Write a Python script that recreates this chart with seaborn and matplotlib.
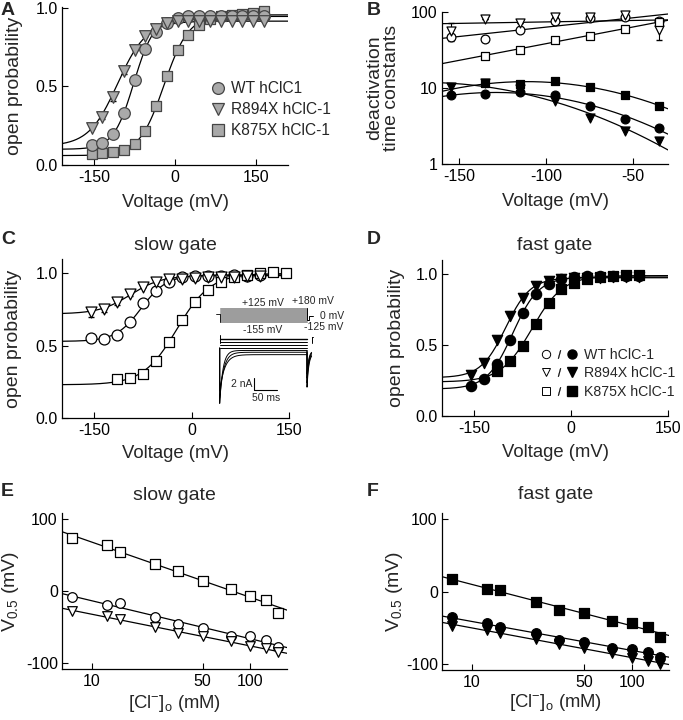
import numpy as np
import pandas as pd
import matplotlib
matplotlib.use("Agg")
import matplotlib.pyplot as plt
import seaborn as sns
from matplotlib.lines import Line2D
from matplotlib.legend_handler import HandlerTuple

sns.set_theme(style="ticks")
plt.rcParams['font.family'] = ['Liberation Sans', 'DejaVu Sans']
plt.rcParams['mathtext.fontset'] = 'custom'
plt.rcParams['mathtext.rm'] = 'Liberation Sans'
plt.rcParams['mathtext.it'] = 'Liberation Sans:italic'
plt.rcParams['axes.linewidth'] = 0.9
plt.rcParams['axes.edgecolor'] = 'black'
plt.rcParams['axes.unicode_minus'] = False

# ---------------- data ----------------
# Panel A: open probability (grey symbols)
A_v = [-155, -135, -115, -95, -75, -55, -35, -15, 5, 25, 45, 65, 85, 105, 125, 145, 165]
A_wt = [0.127, 0.142, 0.197, 0.328, 0.543, 0.736, 0.846, 0.903, 0.934, 0.945, 0.947, 0.948, 0.948, 0.947, 0.948, 0.947, 0.948]
A_r894x = [0.233, 0.307, 0.433, 0.596, 0.734, 0.818, 0.867, 0.903, 0.915, 0.915, 0.916, 0.915, 0.915, 0.916, 0.915, 0.915, 0.915]
A_r894x_err = [0.0, 0.015, 0.025, 0.02, 0.0, 0.0, 0.0, 0.0, 0.0, 0.0, 0.0, 0.0, 0.0, 0.0, 0.0, 0.0, 0.0]
A_k875x = [0.07, 0.074, 0.082, 0.095, 0.133, 0.216, 0.374, 0.567, 0.729, 0.829, 0.892, 0.93, 0.945, 0.951, 0.958, 0.97, 0.977]
# Boltzmann fit parameters: (Pmin, Pmax, V0.5, k)
A_fit_wt = (0.10, 0.945, -76.5, 18.9)
A_fit_r894x = (0.12, 0.915, -106.7, 26.7)
A_fit_k875x = (0.06, 0.955, -20.5, 23.0)

# Panel B: deactivation time constants
B_v = [-155, -135, -115, -95, -75, -55, -35]
B_v_k = [-135, -115, -95, -75, -55, -35]
B_slow_wt = [46.6, 44.3, 57.6, 75.7, 83.8, 86.3, 76.0]
B_slow_r894x = [56.0, 81.0, 72.0, 86.0, 86.0, 90.0, 58.0]
B_slow_r894x_err = [15.0, 0, 0, 0, 0, 0, 15.0]
B_slow_k875x = [26.7, 32.0, 43.4, 48.0, 60.6, 73.4]
B_fast_wt = [8.0, 8.4, 8.77, 8.17, 5.73, 3.94, 2.97]
B_fast_r894x = [10.3, 11.6, 9.7, 6.67, 4.0, 2.68, 1.98]
B_fast_k875x = [11.6, 11.4, 12.2, 10.3, 8.17, 5.85]

# Panel C: slow gate open probability
C_v = [-155, -135, -115, -95, -75, -55, -35, -15, 5, 25, 45, 65, 85, 105]
C_v_k = [-115, -95, -75, -55, -35, -15, 5, 25, 45, 65, 85, 105, 125, 145]
C_wt = [0.554, 0.55, 0.573, 0.665, 0.797, 0.88, 0.942, 0.975, 0.982, 0.985, 0.985, 0.986, 0.985, 0.986]
C_r894x = [0.73, 0.757, 0.80, 0.857, 0.908, 0.942, 0.96, 0.965, 0.97, 0.975, 0.975, 0.976, 0.98, 0.98]
C_r894x_err = [0.03, 0.025, 0.02, 0.01, 0.0, 0.0, 0.0, 0.0, 0.0, 0.0, 0.0, 0.0, 0.0, 0.02]
C_k875x = [0.268, 0.277, 0.307, 0.393, 0.527, 0.677, 0.804, 0.885, 0.942, 0.977, 0.99, 1.0, 1.007, 1.0]
C_fit_wt = (0.53, 0.99, -77.7, 19.7)
C_fit_r894x = (0.72, 0.985, -94.7, 24.0)
C_fit_k875x = (0.23, 1.0, -22.9, 26.0)

# Panel C inset: voltage protocol and currents
ins_test_mV = [-155, -135, -115, -95, -75, -55, -35, -15, 5, 25, 45, 65, 85, 105, 125]
ins_pulse_ms = 190
ins_tail_mV = -125
ins_flat_nA = [0.0, -0.5, -1.0, -1.5]
ins_dec_peak = [-10.7, -9.8, -8.6]
ins_dec_ss = [-1.9, -2.2, -2.6]
ins_dec_tau = [7.0, 9.0, 11.0]
ins_tail_peak = [-8.0, -7.3, -6.5, -5.8]
ins_tail_ss = [-2.4, -2.2, -2.0, -1.9]

# Panel D: fast gate open probability
D_v = [-155, -135, -115, -95, -75, -55, -35, -15, 5, 25, 45, 65, 85, 105]
D_v_k = [-115, -95, -75, -55, -35, -15, 5, 25, 45, 65, 85, 105]
D_wt = [0.209, 0.258, 0.367, 0.535, 0.728, 0.86, 0.93, 0.965, 0.977, 0.984, 0.988, 0.988, 0.99, 0.99]
D_r894x = [0.286, 0.374, 0.535, 0.705, 0.833, 0.914, 0.95, 0.965, 0.97, 0.975, 0.975, 0.98, 0.98, 0.98]
D_k875x = [0.32, 0.386, 0.495, 0.651, 0.798, 0.898, 0.937, 0.965, 0.979, 0.99, 0.995, 0.995]
D_k875x_err = [0.03, 0.02, 0, 0, 0, 0, 0, 0, 0, 0, 0, 0]
D_fit_wt = (0.19, 0.98, -90.2, 20.0)
D_fit_r894x = (0.27, 0.975, -101.5, 19.1)
D_fit_k875x = (0.24, 0.99, -60.8, 24.1)

# Panels E/F: V0.5 vs external chloride
cl_mM = [7.5, 12.5, 15, 25, 35, 50, 75, 100, 125, 150]
E_wt = [-8.4, -19, -16.3, -36.3, -45.6, -51, -62.8, -62.8, -67.4, -78]
E_r894x = [-27.9, -34.9, -38.6, -50.2, -58, -62.8, -69.8, -75.8, -79.5, -85]
E_k875x = [73, 63.7, 54.4, 36.7, 27.9, 14, 3.3, -7, -13, -30]
F_wt = [-35.6, -44, -48.6, -56.5, -67, -69, -77.3, -78.7, -82.9, -89.8]
F_r894x = [-47, -52.8, -57.4, -65.7, -72.7, -77.3, -85, -91.2, -95, -100]
F_k875x = [16.7, 3.7, 2.3, -13.9, -25, -29.6, -40.3, -44, -49.5, -62]

labels3 = ["WT hClC1", "R894X hClC-1", "K875X hClC-1"]
labels3d = ["WT hClC-1", "R894X hClC-1", "K875X hClC-1"]

# ---------------- figure ----------------
W, H = 683, 720
fig = plt.figure(figsize=(W / 100, H / 100), dpi=100)

FS_TICK = 11.5
FS_XL = 13.3
FS_YL = 14
FS_TITLE = 14
FS_LEG = 11.2


def add_ax(l, t, r, b):
    return fig.add_axes([l / W, 1 - b / H, (r - l) / W, (b - t) / H])


def ftext(x, y, s, **kw):
    fig.text(x / W, 1 - y / H, s, **kw)


def boltz(v, p):
    pmin, pmax, vh, k = p
    return pmin + (pmax - pmin) / (1 + np.exp((vh - v) / k))


def style(ax):
    sns.despine(ax=ax)
    ax.tick_params(direction='in', length=4, width=0.8, labelsize=FS_TICK, colors='black')
    ax.tick_params(axis='x', pad=3.5)
    ax.tick_params(axis='y', pad=3)
    ax.grid(False)
    ax.set_facecolor('white')


def labels(ax, xl, yl, xc, yc, title=None, ty=None):
    ax.set_xlabel(xl, fontsize=FS_XL, va='center')
    ax.xaxis.set_label_coords(0.5, xc)
    ax.set_ylabel(yl, fontsize=FS_YL, va='center', linespacing=1.0)
    ax.yaxis.set_label_coords(yc, 0.5)
    if title:
        ax.set_title(title, fontsize=FS_TITLE, y=ty, va='center', pad=0)


LW = 0.9
GREY = '#a9a9a9'
GEDGE = '#454545'


def curve(ax, x, y, **kw):
    sns.lineplot(x=x, y=y, ax=ax, color='black', lw=LW, sort=False, estimator=None, zorder=2, **kw)


def pts(ax, x, y, marker, s, fc, ec, lw=0.9):
    sns.scatterplot(x=x, y=y, ax=ax, marker=marker, s=s, color=fc, edgecolor=ec,
                    linewidth=lw, zorder=4, clip_on=False, legend=False)


# ---- Panel A ----
axA = add_ax(62, 7, 288, 165)
vv = np.linspace(-210, 210, 300)
for p in (A_fit_k875x, A_fit_wt, A_fit_r894x):
    curve(axA, vv, boltz(vv, p))
axA.errorbar(A_v, A_r894x, yerr=A_r894x_err, fmt='none', ecolor='black', elinewidth=0.8, capsize=2.5, zorder=3)
pts(axA, A_v, A_k875x, 's', 62, GREY, GEDGE)
pts(axA, A_v, A_wt, 'o', 70, GREY, GEDGE)
pts(axA, A_v, A_r894x, 'v', 70, GREY, GEDGE)
axA.set_xlim(-210, 210)
axA.set_ylim(0, 1.005)
axA.set_xticks([-150, 0, 150])
axA.set_yticks([0.0, 0.5, 1.0])
axA.set_yticklabels(['0.0', '0.5', '1.0'])
style(axA)
labels(axA, 'Voltage (mV)', 'open probability', -0.235, -0.212)
hA = [Line2D([], [], ls='', marker=m, ms=8.5, mfc=GREY, mec=GEDGE, mew=0.9) for m in ('o', 'v', 's')]
axA.legend(hA, labels3, loc='upper left', bbox_to_anchor=(0.62, 0.57), frameon=False,
           fontsize=FS_LEG, handletextpad=0.25, labelspacing=0.38, borderaxespad=0, handlelength=1.2)

# ---- Panel B ----
axB = add_ax(442, 12, 668, 164)
axB.set_yscale('log')
vb = np.linspace(-160, -30, 200)
for xv, yv in ((B_v, B_slow_wt), (B_v, B_slow_r894x), (B_v_k, B_slow_k875x)):
    c = np.polyfit(xv, np.log10(yv), 1)
    curve(axB, vb, 10 ** np.polyval(c, vb))
for xv, yv in ((B_v, B_fast_wt), (B_v, B_fast_r894x), (B_v_k, B_fast_k875x)):
    c = np.polyfit(xv, np.log10(yv), 2)
    curve(axB, vb, 10 ** np.polyval(c, vb))
axB.errorbar(B_v, B_slow_r894x, yerr=B_slow_r894x_err, fmt='none', ecolor='black', elinewidth=0.8, capsize=2.5, zorder=3)
pts(axB, B_v, B_slow_wt, 'o', 40, 'white', 'black')
pts(axB, B_v, B_slow_r894x, 'v', 42, 'white', 'black')
pts(axB, B_v_k, B_slow_k875x, 's', 36, 'white', 'black')
pts(axB, B_v, B_fast_wt, 'o', 40, 'black', 'black')
pts(axB, B_v, B_fast_r894x, 'v', 42, 'black', 'black')
pts(axB, B_v_k, B_fast_k875x, 's', 36, 'black', 'black')
axB.set_xlim(-160, -30)
axB.set_ylim(1, 100)
axB.set_xticks([-150, -100, -50])
axB.set_yticks([1, 10, 100])
axB.set_yticklabels(['1', '10', '100'])
axB.minorticks_off()
style(axB)
labels(axB, 'Voltage (mV)', 'deactivation\ntime constants', -0.245, -0.26)

# ---- Panel C ----
axC = add_ax(62, 259, 289, 418)
vc = np.linspace(-200, 150, 300)
for p in (C_fit_wt, C_fit_r894x, C_fit_k875x):
    curve(axC, vc, boltz(vc, p))
axC.errorbar(C_v, C_r894x, yerr=C_r894x_err, fmt='none', ecolor='black', elinewidth=0.8, capsize=2.5, zorder=3)
pts(axC, C_v, C_wt, 'o', 62, 'white', 'black')
pts(axC, C_v_k, C_k875x, 's', 56, 'white', 'black')
pts(axC, C_v, C_r894x, 'v', 62, 'white', 'black')
axC.set_xlim(-200, 150)
axC.set_ylim(0, 1.1)
axC.set_xticks([-150, 0, 150])
axC.set_yticks([0.0, 0.5, 1.0])
axC.set_yticklabels(['0.0', '0.5', '1.0'])
style(axC)
labels(axC, 'Voltage (mV)', 'open probability', -0.222, -0.212, 'slow gate', 1.088)

# inset: protocol
t_scale = (-32, 240)
axP = add_ax(205, 298, 330, 328)
axP.set_xlim(*t_scale)
axP.set_ylim(-275, 325)
axP.axis('off')
for v in ins_test_mV:
    axP.plot([0, ins_pulse_ms], [v, v], color='#808080', lw=0.55)
axP.plot([-8, 0, 0], [0, 0, ins_test_mV[0]], color='black', lw=0.6)
axP.plot([ins_pulse_ms, ins_pulse_ms, ins_pulse_ms + 5, ins_pulse_ms + 5, ins_pulse_ms + 14],
         [ins_test_mV[-1], ins_tail_mV, ins_tail_mV, -40, -40], color='black', lw=0.7)
ftext(263, 303, '+125 mV', fontsize=7.5, ha='center', va='center')
ftext(313, 301, '+180 mV', fontsize=7.5, ha='center', va='center')
ftext(320, 316, '0 mV', fontsize=7.5, ha='left', va='center')
ftext(324, 327, '-125 mV', fontsize=7.5, ha='center', va='center')
ftext(263, 330, '-155 mV', fontsize=7.5, ha='center', va='center')

# inset: currents
axI = add_ax(205, 333, 330, 410)
axI.set_xlim(*t_scale)
axI.set_ylim(-11.8, 1.0)
axI.axis('off')
tt = np.linspace(0, ins_pulse_ms, 400)
for lv in ins_flat_nA:
    axI.plot([0, ins_pulse_ms], [lv, lv], color='black', lw=1.0 if lv == 0 else 0.7)
for pk, ss, tau in zip(ins_dec_peak, ins_dec_ss, ins_dec_tau):
    axI.plot(np.r_[0, tt], np.r_[ins_flat_nA[-1], ss + (pk - ss) * np.exp(-tt / tau)], color='black', lw=0.7)
t2 = np.linspace(0, 10, 60)
for pk, ss in zip(ins_tail_peak, ins_tail_ss):
    axI.plot(np.r_[ins_pulse_ms, ins_pulse_ms + t2], np.r_[ss, ss + (pk - ss) * np.exp(-t2 / 4.0)], color='black', lw=0.7)
axI.plot([0, 0], [-0.6, 0.6], color='black', lw=0.7)
axI.plot([ins_pulse_ms + 10, ins_pulse_ms + 10], [-0.6, 0.3], color='black', lw=0.7)
axI.plot([ins_pulse_ms + 10, ins_pulse_ms + 13], [0.3, 0.3], color='black', lw=0.7)
# scale bars
axI.plot([75, 75, 125], [-6.5, -8.5, -8.5], color='black', lw=0.8)
axI.text(72, -7.4, '2 nA', fontsize=7.5, ha='right', va='center')
axI.text(100, -9.0, '50 ms', fontsize=7.5, ha='center', va='top')

# ---- Panel D ----
axD = add_ax(442, 260, 668, 416)
for p in (D_fit_wt, D_fit_r894x, D_fit_k875x):
    curve(axD, vc, boltz(vc, p))
axD.errorbar(D_v_k, D_k875x, yerr=D_k875x_err, fmt='none', ecolor='black', elinewidth=0.8, capsize=2.5, zorder=3)
pts(axD, D_v, D_wt, 'o', 55, 'black', 'black')
pts(axD, D_v, D_r894x, 'v', 55, 'black', 'black')
pts(axD, D_v_k, D_k875x, 's', 50, 'black', 'black')
axD.set_xlim(-200, 150)
axD.set_ylim(0, 1.1)
axD.set_xticks([-150, 0, 150])
axD.set_yticks([0.0, 0.5, 1.0])
axD.set_yticklabels(['0.0', '0.5', '1.0'])
style(axD)
labels(axD, 'Voltage (mV)', 'open probability', -0.233, -0.2, 'fast gate', 1.096)
hD = []
for m in ('o', 'v', 's'):
    hD.append((Line2D([], [], ls='', marker=m, ms=6, mfc='white', mec='black', mew=0.7),
               Line2D([], [], ls='', marker='$/$', ms=6, color='black', mew=0.2),
               Line2D([], [], ls='', marker=m, ms=6.5, color='black')))
axD.legend(hD, labels3d, handler_map={tuple: HandlerTuple(ndivide=None, pad=0.15)},
           loc='upper left', bbox_to_anchor=(0.41, 0.475), frameon=False, fontsize=10.2,
           handlelength=2.6, handletextpad=0.45, labelspacing=0.32, borderaxespad=0)

# ---- Panels E, F ----
cc = np.linspace(np.log10(6.5), np.log10(170), 50)
for ax, series, sym_fc, title, yc, xc in (
        (add_ax(62, 513, 287, 669), (E_wt, E_r894x, E_k875x), 'white', 'slow gate', -0.227, -0.22),
        (add_ax(442, 513, 669, 670), (F_wt, F_r894x, F_k875x), 'black', 'fast gate', -0.21, -0.21)):
    ax.set_xscale('log')
    for yv in series:
        c = np.polyfit(np.log10(cl_mM), yv, 1)
        curve(ax, 10 ** cc, np.polyval(c, cc))
    pts(ax, cl_mM, series[0], 'o', 48, sym_fc, 'black')
    pts(ax, cl_mM, series[1], 'v', 48, sym_fc, 'black')
    pts(ax, cl_mM, series[2], 's', 44, sym_fc, 'black')
    ax.set_xlim(6.5, 170)
    ax.set_ylim(-108, 108)
    ax.set_xticks([10, 50, 100])
    ax.set_xticklabels(['10', '50', '100'])
    ax.set_yticks([-100, 0, 100])
    ax.minorticks_off()
    style(ax)
    labels(ax, r'[Cl$^{\mathregular{-}}$]$_{\mathregular{o}}$ (mM)', r'V$_{\mathregular{0.5}}$ (mV)',
           xc, yc, title, 1.115)

# panel letters
for x, y, s in ((1, 2, 'A'), (367, 2, 'B'), (1, 231, 'C'), (367, 231, 'D'), (1, 483, 'E'), (367, 483, 'F')):
    ftext(x, y, s, fontsize=14, fontweight='bold', ha='left', va='top')

fig.savefig('out.png', dpi=100, facecolor='white')
